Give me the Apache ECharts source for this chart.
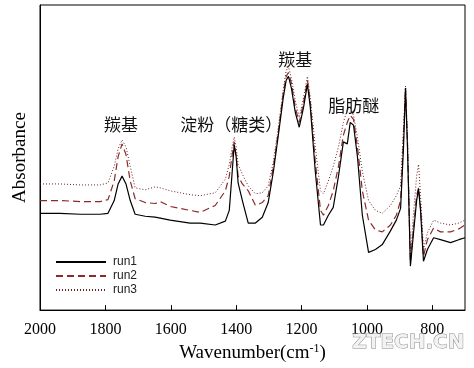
<!DOCTYPE html>
<html>
<head>
<meta charset="utf-8">
<script src="https://cdn.jsdelivr.net/npm/echarts@6/dist/echarts.min.js"></script>
<style>html,body{margin:0;padding:0;background:#fff}#c{width:474px;height:368px}</style>
</head>
<body>
<div id="c"></div>
<script>
var wavenumbers = [2000,1939,1877,1816,1792,1773,1761,1749,1737,1724,
  1709,1678,1648,1632,1602,1541,1510,1464,1433,1421,
  1412,1406,1400,1394,1381,1363,1341,1320,1302,1286,
  1271,1256,1247,1240,1231,1219,1207,1194,1182,1173,
  1158,1142,1133,1118,1103,1087,1072,1060,1051,1041,
  1029,1014,995,974,953,928,910,897,888,882,
  876,867,858,848,842,836,827,815,796,775,
  744,719,700];
var run1 = [0.99,0.99,0.98,0.98,0.99,1.12,1.29,1.37,1.29,1.12,
  0.98,0.96,0.95,0.94,0.92,0.89,0.89,0.87,0.91,1.02,
  1.42,1.69,1.57,1.30,1.12,0.89,0.89,0.95,1.10,1.42,
  1.79,2.17,2.35,2.39,2.27,2.02,1.87,2.07,2.31,2.07,
  1.42,0.87,0.87,0.97,1.05,1.37,1.72,1.70,1.92,1.89,
  1.57,0.97,0.59,0.62,0.67,0.81,0.92,1.04,1.67,2.27,
  1.67,0.45,0.77,1.12,1.24,1.02,0.50,0.62,0.74,0.72,
  0.69,0.72,0.74];
var run2 = [1.12,1.12,1.11,1.11,1.13,1.32,1.57,1.70,1.59,1.32,
  1.14,1.10,1.09,1.11,1.06,1.02,1.00,1.07,1.22,1.37,
  1.59,1.72,1.57,1.37,1.29,1.22,1.07,1.10,1.17,1.47,
  1.82,2.22,2.39,2.43,2.32,2.07,1.92,2.12,2.35,2.12,
  1.52,1.02,0.97,1.07,1.22,1.47,1.79,1.92,1.99,1.95,
  1.67,1.22,0.92,0.82,0.80,0.87,0.97,1.12,1.77,2.27,
  1.72,0.49,0.82,1.17,1.25,1.05,0.55,0.72,0.84,0.80,
  0.80,0.83,0.87];
var run3 = [1.29,1.29,1.28,1.28,1.30,1.47,1.65,1.74,1.67,1.47,
  1.25,1.23,1.26,1.25,1.22,1.18,1.17,1.20,1.34,1.49,
  1.67,1.77,1.67,1.49,1.39,1.27,1.19,1.20,1.27,1.52,
  1.87,2.25,2.45,2.49,2.37,2.14,1.97,2.17,2.39,2.17,
  1.67,1.22,1.19,1.32,1.47,1.67,1.92,2.05,2.07,1.99,
  1.77,1.42,1.12,1.02,0.99,1.07,1.17,1.27,1.87,2.29,
  1.77,0.52,0.97,1.37,1.49,1.17,0.62,0.79,0.92,0.89,
  0.87,0.89,0.92];
var seriesNames = ['run1','run2','run3'];
var xTickLabels = [800,1000,1200,1400,1600,1800,2000];
var xTicks = [800,1000,1200,1400,1600,1800];
var annotations = [
  {text:'羰基', wn:1804, v:1.90},
  {text:'淀粉（糖类）', wn:1571, v:1.90},
  {text:'羰基', wn:1271, v:2.56},
  {text:'脂肪醚', wn:1118, v:2.09}
];

function pairs(arr){ return wavenumbers.map(function(w,i){ return [w, arr[i]]; }); }

var chart = echarts.init(document.getElementById('c'), null, {renderer:'canvas'});
var serif = '"Liberation Serif","Times New Roman",serif';
var option = {
  animation: false,
  backgroundColor: '#fff',
  grid: {left: 40, right: 9, top: 5, bottom: 51, show: true, borderColor: '#000', borderWidth: 1},
  legend: {
    orient: 'vertical', left: 50, top: 251, itemWidth: 50, itemHeight: 14, itemGap: 2,
    data: seriesNames,
    itemStyle: {opacity: 0},
    textStyle: {fontFamily: '"Liberation Sans",Arial,sans-serif', fontSize: 12, color: '#222', padding: [0,0,0,2]}
  },
  xAxis: {
    type: 'value', inverse: true, min: 700, max: 2000,
    axisLine: {show: true, lineStyle: {color: '#000', width: 1}},
    axisTick: {show: true, inside: true, length: 5, customValues: xTicks, lineStyle: {color: '#000'}},
    axisLabel: {customValues: xTickLabels, margin: 12, fontFamily: serif, fontSize: 16, color: '#000',
      formatter: function(v){ return String(v); }},
    splitLine: {show: false},
    name: '{a|Wavenumber(cm}{s|-1}{a|)}',
    nameLocation: 'middle', nameGap: 28,
    nameTextStyle: {rich: {
      a: {fontFamily: serif, fontSize: 19, color: '#000'},
      s: {fontFamily: serif, fontSize: 12, color: '#000', verticalAlign: 'top', padding: [0,0,9,0]}
    }}
  },
  yAxis: {
    type: 'value', min: 0, max: 3.12,
    axisLine: {show: true, lineStyle: {color: '#000', width: 1}},
    axisTick: {show: false}, axisLabel: {show: false}, splitLine: {show: false},
    name: 'Absorbance', nameLocation: 'middle', nameGap: 10,
    nameTextStyle: {fontFamily: serif, fontSize: 19, color: '#000'}
  },
  series: [
    {name: seriesNames[0], type: 'line', data: pairs(run1), showSymbol: false, symbol: 'none',
     lineStyle: {color: '#000', width: 1.2, type: 'solid'}, itemStyle: {color: '#000'}, z: 4},
    {name: seriesNames[1], type: 'line', data: pairs(run2), showSymbol: false, symbol: 'none',
     lineStyle: {color: '#8b2a2a', width: 1.2, type: [7,4]}, itemStyle: {color: '#8b2a2a'}, z: 3},
    {name: seriesNames[2], type: 'line', data: pairs(run3), showSymbol: false, symbol: 'none',
     lineStyle: {color: '#6a2020', width: 1, type: [1,2]}, itemStyle: {color: '#6a2020'}, z: 2}
  ],
  graphic: []
};
chart.setOption(option);

var gr = annotations.map(function(a){
  var p = chart.convertToPixel({gridIndex:0}, [a.wn, a.v]);
  return {type:'text', x: p[0], y: p[1], z: 10,
    style:{text:a.text, font:'17px "Noto Sans CJK SC", sans-serif', fill:'#111', textAlign:'left', textVerticalAlign:'middle'}};
});
gr.push({type:'text', right: 9, bottom: 15, z: 10,
  style:{text:'ZTECH.CN', font:'bold 20px "DejaVu Sans", sans-serif', fill:'#f2f2f2', stroke:'#8a8a8a', lineWidth:1}});
chart.setOption({graphic: gr});
</script>
</body>
</html>
